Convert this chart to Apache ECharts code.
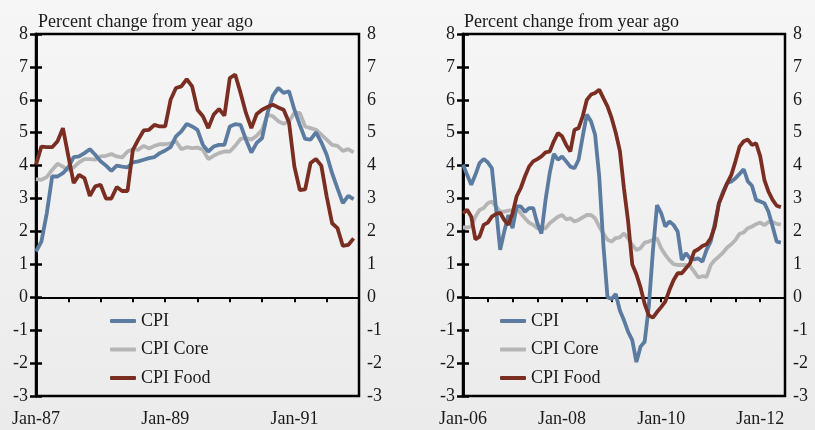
<!DOCTYPE html>
<html>
<head>
<meta charset="utf-8">
<script src="https://cdn.jsdelivr.net/npm/echarts@6/dist/echarts.min.js"></script>
<style>
  html, body { margin: 0; padding: 0; }
  #chart { width: 815px; height: 430px; }
</style>
</head>
<body>
<div id="chart"></div>
<script>
// month index 0 = Jan of first year, monthly points
const labels87 = ['Jan-87', 'Jan-89', 'Jan-91']
const labels06 = ['Jan-06', 'Jan-08', 'Jan-10', 'Jan-12']

const cpi87 = [1.39,1.69,2.55,3.67,3.67,3.77,3.95,4.26,4.28,4.38,4.5,4.33,4.13,4.0,3.84,4.0,3.97,3.95,4.1,4.13,4.18,4.23,4.26,4.38,4.46,4.56,4.89,5.04,5.27,5.19,5.09,4.63,4.43,4.58,4.63,4.63,5.19,5.26,5.24,4.79,4.4,4.69,4.84,5.6,6.13,6.36,6.21,6.26,5.7,5.24,4.81,4.79,5.01,4.71,4.33,3.77,3.31,2.86,3.08,2.98]
const core87 = [3.59,3.57,3.65,3.87,4.06,3.97,3.87,3.95,4.1,4.2,4.2,4.18,4.28,4.3,4.35,4.28,4.25,4.43,4.5,4.48,4.6,4.52,4.6,4.65,4.65,4.68,4.74,4.5,4.56,4.53,4.55,4.48,4.2,4.3,4.38,4.43,4.43,4.6,4.81,4.84,4.79,4.91,5.09,5.55,5.5,5.35,5.27,5.35,5.6,5.6,5.19,5.14,5.09,4.94,4.79,4.63,4.6,4.45,4.5,4.4]
const food87 = [4.03,4.58,4.56,4.56,4.74,5.14,4.3,3.47,3.72,3.62,3.08,3.37,3.42,3.0,3.0,3.35,3.23,3.23,4.48,4.79,5.07,5.09,5.24,5.19,5.19,6.0,6.36,6.41,6.63,6.41,5.7,5.5,5.14,5.55,5.72,5.52,6.66,6.77,6.21,5.6,5.14,5.57,5.7,5.78,5.85,5.77,5.7,5.31,3.97,3.26,3.28,4.08,4.2,4.0,3.06,2.25,2.1,1.56,1.59,1.79]

const cpi06 = [4.03,3.72,3.42,3.72,4.08,4.2,4.1,3.92,2.7,1.44,2.0,2.5,2.1,2.76,2.76,2.6,2.71,2.71,2.25,1.94,2.96,3.77,4.36,4.18,4.28,4.13,3.97,3.92,4.18,4.89,5.55,5.35,4.94,3.67,1.6,0.0,-0.05,0.1,-0.4,-0.7,-1.05,-1.3,-1.97,-1.5,-1.35,-0.3,1.4,2.8,2.56,2.15,2.3,2.2,2.0,1.13,1.34,1.18,1.15,1.18,1.08,1.44,1.69,2.25,2.86,3.21,3.47,3.52,3.62,3.75,3.89,3.52,3.39,2.96,2.91,2.86,2.6,2.15,1.69,1.66]
const core06 = [2.12,2.12,2.15,2.45,2.65,2.71,2.86,2.91,2.76,2.6,2.6,2.63,2.65,2.71,2.55,2.4,2.27,2.2,2.1,2.07,2.1,2.25,2.35,2.45,2.5,2.37,2.4,2.3,2.35,2.43,2.5,2.5,2.4,2.15,1.94,1.75,1.69,1.8,1.82,1.94,1.79,1.59,1.44,1.49,1.66,1.69,1.75,1.79,1.49,1.29,1.13,1.01,0.98,0.98,0.98,0.95,0.78,0.6,0.64,0.62,0.98,1.13,1.24,1.36,1.51,1.61,1.74,1.93,1.97,2.1,2.15,2.22,2.27,2.19,2.29,2.29,2.23,2.21]
const food06 = [2.55,2.66,2.45,1.76,1.84,2.2,2.27,2.45,2.53,2.57,2.35,2.2,2.55,3.07,3.32,3.67,3.97,4.13,4.2,4.28,4.4,4.43,4.74,4.99,4.89,4.63,4.43,5.09,5.14,5.5,6.0,6.16,6.21,6.31,6.05,5.8,5.45,5.0,4.45,3.3,2.3,1.0,0.7,0.3,-0.2,-0.55,-0.62,-0.45,-0.3,-0.13,0.22,0.52,0.73,0.73,0.88,1.03,1.39,1.46,1.56,1.61,1.79,2.15,2.86,3.16,3.47,3.72,4.13,4.58,4.74,4.79,4.63,4.68,4.28,3.57,3.21,2.96,2.78,2.74]

const FONT = '"Liberation Serif", "DejaVu Serif", serif'
const INK = '#1a1a1a'
const colors = { cpi: '#5b7ba0', core: '#b5b5b5', food: '#7a2e22' }
const names = ['CPI', 'CPI Core', 'CPI Food']

const pairs = (arr) => arr.map((v, i) => [i, v])

const makeYAxes = (gridIndex) => ['left', 'right'].map(pos => ({
  gridIndex,
  type: 'value',
  position: pos,
  min: -3,
  max: 8,
  interval: 1,
  axisLine: { show: true, lineStyle: { color: '#000', width: 2.5 } },
  axisTick: { show: true, inside: true, length: 6, lineStyle: { color: '#000', width: 2.5 } },
  axisLabel: { color: INK, fontFamily: FONT, fontSize: 18, margin: 8 },
  splitLine: { show: false }
}))

const makeXAxes = (gridIndex, max, labels) => [
  {
    gridIndex,
    type: 'value',
    min: 0,
    max,
    interval: 6,
    axisLine: { show: true, onZero: true, onZeroAxisIndex: gridIndex * 2, lineStyle: { color: '#000', width: 2 } },
    axisTick: { show: true, length: 5, lineStyle: { color: '#000', width: 2 } },
    axisLabel: { show: false },
    splitLine: { show: false }
  },
  {
    gridIndex,
    type: 'value',
    position: 'bottom',
    min: 0,
    max,
    interval: 6,
    axisLine: { show: false, onZero: false },
    axisTick: { show: false },
    axisLabel: {
      color: INK, fontFamily: FONT, fontSize: 18, margin: 14,
      showMinLabel: true,
      formatter: (v) => (v % 24 === 0 && labels[v / 24]) ? labels[v / 24] : ''
    },
    splitLine: { show: false }
  }
]

const makeSeries = (gridIndex, cpi, core, food) => [
  ['CPI', cpi, colors.cpi],
  ['CPI Core', core, colors.core],
  ['CPI Food', food, colors.food]
].map(([name, data, color]) => ({
  name,
  type: 'line',
  xAxisIndex: gridIndex * 2,
  yAxisIndex: gridIndex * 2,
  data: pairs(data),
  symbol: 'none',
  z: name === 'CPI Core' ? 2 : 3,
  lineStyle: { color, width: 3.8 },
  itemStyle: { color }
}))

const legendBase = {
  orient: 'vertical',
  top: 306,
  itemWidth: 26,
  itemHeight: 4,
  itemGap: 8.5,
  icon: 'roundRect',
  data: names,
  textStyle: { color: INK, fontFamily: FONT, fontSize: 18, lineHeight: 20 }
}

const chart = echarts.init(document.getElementById('chart'))
chart.setOption({
  animation: false,
  backgroundColor: {
    type: 'linear', x: 0, y: 0, x2: 0, y2: 1,
    colorStops: [{ offset: 0, color: '#f6f6f6' }, { offset: 1, color: '#ebebeb' }]
  },
  title: [
    { text: 'Percent change from year ago', left: 33, top: 8, textStyle: { color: INK, fontFamily: FONT, fontSize: 18, fontWeight: 'normal' } },
    { text: 'Percent change from year ago', left: 459, top: 8, textStyle: { color: INK, fontFamily: FONT, fontSize: 18, fontWeight: 'normal' } }
  ],
  legend: [
    { ...legendBase, left: 105 },
    { ...legendBase, left: 495 }
  ],
  grid: [
    { left: 36, right: 456, top: 34, bottom: 34, show: true, borderColor: '#000', borderWidth: 2.5, backgroundColor: 'transparent' },
    { left: 463, right: 30, top: 34, bottom: 34, show: true, borderColor: '#000', borderWidth: 2.5, backgroundColor: 'transparent' }
  ],
  xAxis: [...makeXAxes(0, 60, labels87), ...makeXAxes(1, 78, labels06)],
  yAxis: [...makeYAxes(0), ...makeYAxes(1)],
  series: [...makeSeries(0, cpi87, core87, food87), ...makeSeries(1, cpi06, core06, food06)]
})
</script>
</body>
</html>
